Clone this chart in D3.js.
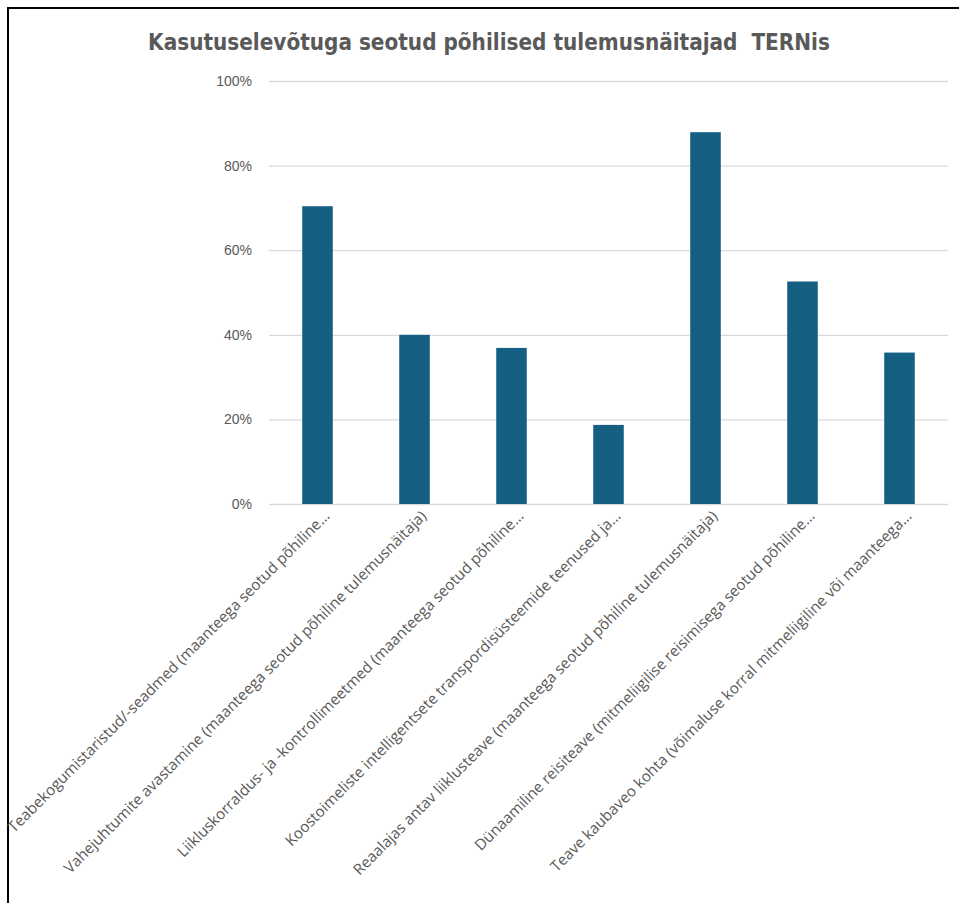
<!DOCTYPE html>
<html>
<head>
<meta charset="utf-8">
<script src="https://cdn.jsdelivr.net/npm/d3@7"></script>
<style>
  body { margin: 0; background: #fff; }
  #chart svg { display: block; }
</style>
</head>
<body>
<div id="chart"></div>
<script>
const CATEGORIES = [
  "Teabekogumistaristud/-seadmed (maanteega seotud põhiline…",
  "Vahejuhtumite avastamine (maanteega seotud põhiline tulemusnäitaja)",
  "Liikluskorraldus- ja -kontrollimeetmed (maanteega seotud põhiline…",
  "Koostoimeliste intelligentsete transpordisüsteemide teenused ja…",
  "Reaalajas antav liiklusteave (maanteega seotud põhiline tulemusnäitaja)",
  "Dünaamiline reisiteave (mitmeliigilise reisimisega seotud põhiline…",
  "Teave kaubaveo kohta (võimaluse korral mitmeliigiline või maanteega…"
];
const VALUES = [0.704, 0.40, 0.369, 0.187, 0.879, 0.526, 0.358];
const Y_TICKS = [0, 0.2, 0.4, 0.6, 0.8, 1.0];
const TITLE = "Kasutuselevõtuga seotud põhilised tulemusnäitajad  TERNis";

const WIDTH = 959;
const HEIGHT = 903;
const MARGIN = { TOP: 81, RIGHT: 11, BOTTOM: 399, LEFT: 269 };
const CHART_WIDTH = WIDTH - MARGIN.LEFT - MARGIN.RIGHT;
const CHART_HEIGHT = HEIGHT - MARGIN.TOP - MARGIN.BOTTOM;
const GREY = "#595959";

const SVG = d3.select("#chart").append("svg")
  .attr("width", WIDTH)
  .attr("height", HEIGHT);

// frame (only top and left edges are visible in the picture)
SVG.append("path")
  .attr("d", "M8,903 V8 H959")
  .attr("fill", "none")
  .attr("stroke", "#000")
  .attr("stroke-width", 2);

SVG.append("text")
  .attr("x", 489)
  .attr("y", 50)
  .attr("text-anchor", "middle")
  .style("white-space", "pre")
  .attr("font-family", "'Liberation Sans Narrow', 'DejaVu Sans Condensed', sans-serif")
  .attr("font-weight", "bold")
  .attr("font-size", 22.3)
  .attr("fill", GREY)
  .text(TITLE);

const CHART = SVG.append("g")
  .attr("transform", "translate(" + MARGIN.LEFT + "," + MARGIN.TOP + ")");

const X_SCALE = d3.scaleBand()
  .domain(CATEGORIES)
  .range([0, CHART_WIDTH])
  .paddingInner(0.685)
  .paddingOuter(0.3425);

const Y_SCALE = d3.scaleLinear()
  .domain([0, 1])
  .range([CHART_HEIGHT, 0]);

// gridlines + y labels
const Y_AXIS = d3.axisLeft(Y_SCALE)
  .tickValues(Y_TICKS)
  .tickSize(-CHART_WIDTH)
  .tickPadding(17)
  .tickFormat(d3.format(".0%"));

CHART.append("g")
  .attr("class", "y-axis")
  .call(Y_AXIS)
  .call((g) => g.select(".domain").remove())
  .call((g) => g.selectAll("line").attr("stroke", "#d9d9d9").attr("stroke-width", 1.3))
  .call((g) => g.selectAll("text")
    .attr("font-family", "'Liberation Sans', Arial, sans-serif")
    .attr("font-size", 14)
    .attr("fill", GREY));

CHART.selectAll("rect.bar")
  .data(VALUES)
  .enter()
  .append("rect")
  .attr("class", "bar")
  .attr("x", (d, i) => X_SCALE(CATEGORIES[i]))
  .attr("y", (d) => Y_SCALE(d))
  .attr("width", X_SCALE.bandwidth())
  .attr("height", (d) => CHART_HEIGHT - Y_SCALE(d))
  .attr("fill", "#156082");

// rotated category labels
const X_AXIS = d3.axisBottom(X_SCALE).tickSize(0).tickPadding(0);

CHART.append("g")
  .attr("class", "x-axis")
  .attr("transform", "translate(0," + CHART_HEIGHT + ")")
  .call(X_AXIS)
  .call((g) => g.select(".domain").remove())
  .call((g) => g.selectAll("text")
    .attr("font-family", "'Open Sans', sans-serif")
    .attr("font-size", 15.2)
    .attr("fill", GREY)
    .attr("text-anchor", "end")
    .attr("dy", 0)
    .attr("y", 0)
    .attr("transform", "translate(13,13) rotate(-45)"));
</script>
</body>
</html>
